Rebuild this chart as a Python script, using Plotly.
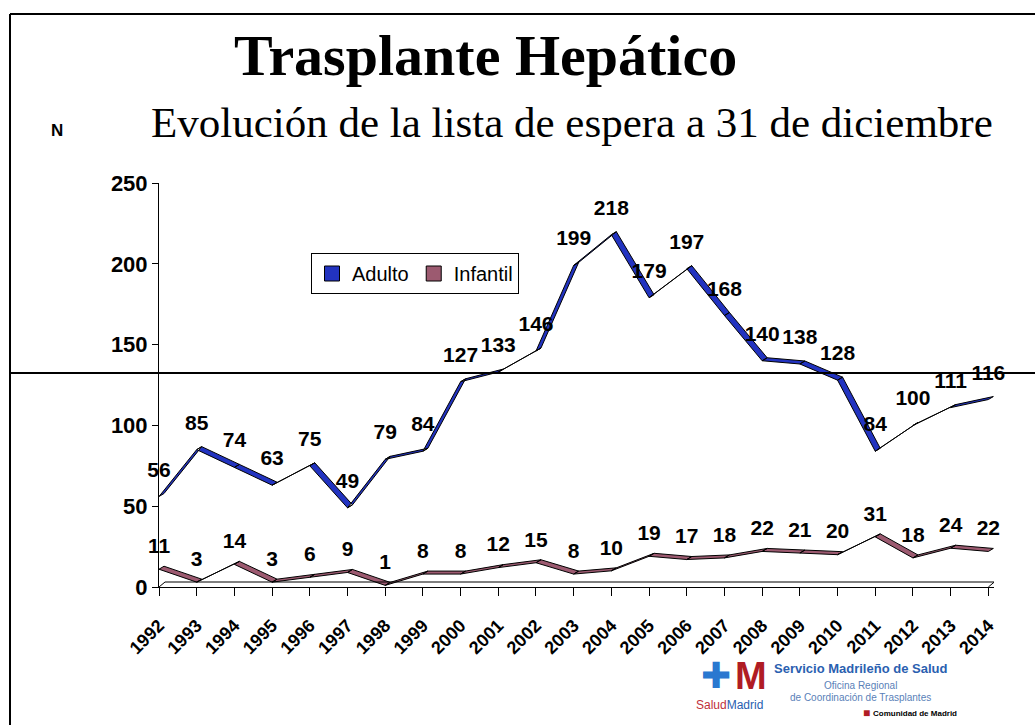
import plotly.graph_objects as go

# ---------------------------------------------------------------------------
# Data
# ---------------------------------------------------------------------------
years = [str(y) for y in range(1992, 2015)]
adulto = [56, 85, 74, 63, 75, 49, 79, 84, 127, 133, 146, 199, 218,
          179, 197, 168, 140, 138, 128, 84, 100, 111, 116]
infantil = [11, 3, 14, 3, 6, 9, 1, 8, 8, 12, 15, 8, 10,
            19, 17, 18, 22, 21, 20, 31, 18, 24, 22]

BLUE = "#2233c0"
MAUVE = "#9c5a70"

# ---------------------------------------------------------------------------
# Layout geometry (pixels)
# ---------------------------------------------------------------------------
W, H = 1035, 725
L, R, T, B = 159, 41, 183, 138
X_MAX = 22.15
PX_PER_X = (W - L - R) / X_MAX
PX_PER_Y = (H - T - B) / 250

# 3D ribbon depth, in pixels (right, up)
DEPTH = (5, 3)
FLOOR = (6, 5)


def paper(px, py):
    return (px - L) / (W - L - R), (H - B - py) / (H - T - B)


def ribbon(values):
    dx = DEPTH[0] / PX_PER_X
    dy = DEPTH[1] / PX_PER_Y
    xs, ys = [], []
    for i in range(len(values) - 1):
        x0, x1 = i, i + 1
        y0, y1 = values[i], values[i + 1]
        xs += [x0, x1, x1 + dx, x0 + dx, x0, None]
        ys += [y0, y1, y1 + dy, y0 + dy, y0, None]
    return xs, ys


fig = go.Figure()

for name, vals, color in [("Adulto", adulto, BLUE), ("Infantil", infantil, MAUVE)]:
    rx, ry = ribbon(vals)
    fig.add_trace(go.Scatter(
        x=rx, y=ry, mode="lines", fill="toself", fillcolor=color,
        line=dict(color="black", width=1), showlegend=False, hoverinfo="skip",
    ))

# data labels; an invisible marker pushes the text up off the ribbon
for vals, pad in [(adulto, 22), (infantil, 16)]:
    fig.add_trace(go.Scatter(
        x=list(range(len(vals))), y=vals, mode="markers+text", text=[str(v) for v in vals],
        textposition="top center", cliponaxis=False, showlegend=False, hoverinfo="skip",
        marker=dict(size=pad, color="rgba(0,0,0,0)"),
        textfont=dict(family="Arial, Liberation Sans", size=21, color="black", weight="bold"),
    ))

# legend entries
for name, color in [("Adulto", BLUE), ("Infantil", MAUVE)]:
    fig.add_trace(go.Scatter(
        x=[None], y=[None], mode="markers", name=name,
        marker=dict(symbol="square", size=15, color=color, line=dict(color="black", width=1)),
    ))

# 3D floor
fdx = FLOOR[0] / PX_PER_X
fdy = FLOOR[1] / PX_PER_Y
n = len(years) - 1
shapes = [
    dict(type="line", xref="x", yref="y", x0=0, y0=0, x1=fdx, y1=fdy, line=dict(color="black", width=1)),
    dict(type="line", xref="x", yref="y", x0=fdx, y0=fdy, x1=n + fdx, y1=fdy, line=dict(color="black", width=1)),
    dict(type="line", xref="x", yref="y", x0=n, y0=0, x1=n + fdx, y1=fdy, line=dict(color="black", width=1)),
]

# slide frame and stray horizontal rule
fx0, fy0 = paper(10, 14)
fx1, fy1 = paper(W, H)
hx0, hy = paper(10, 373)
shapes += [
    dict(type="line", xref="paper", yref="paper", x0=fx0, y0=fy0, x1=fx1, y1=fy0, line=dict(color="black", width=2)),
    dict(type="line", xref="paper", yref="paper", x0=fx0, y0=fy0, x1=fx0, y1=fy1, line=dict(color="black", width=2)),
    dict(type="line", xref="paper", yref="paper", x0=hx0, y0=hy, x1=fx1, y1=hy, line=dict(color="black", width=2)),
]


def note(text, px, py, size, family="Arial, Liberation Sans", color="black", bold=False, xanchor="center"):
    ax, ay = paper(px, py)
    return dict(
        text=text, x=ax, y=ay, xref="paper", yref="paper", showarrow=False,
        xanchor=xanchor, yanchor="middle",
        font=dict(family=family, size=size, color=color, weight="bold" if bold else "normal"),
    )


SERIF = "Liberation Serif, Times New Roman, serif"
annotations = [
    note("Trasplante Hepático", 485, 56, 58, family=SERIF, bold=True),
    note("Evolución de la lista de espera a 31 de diciembre", 572, 122, 43, family=SERIF),
    note("N", 57, 130, 17, bold=True),
    # logo
    note("✚", 716, 675, 36, color="#2a78d0"),
    note("M", 751, 676, 38, color="#b01c24", bold=True),
    note("<span style='color:#c0303a'>Salud</span><span style='color:#2a60b0'>Madrid</span>",
         729, 705, 12),
    note("Servicio Madrileño de Salud", 860, 668, 13, color="#2a60b0", bold=True),
    note("Oficina Regional", 860, 685, 10, color="#5a7fb8"),
    note("de Coordinación de Trasplantes", 860, 697, 10, color="#5a7fb8"),
    note("■", 866, 713, 12, color="#b01c24"),
    note("Comunidad de Madrid", 915, 713, 8, bold=True),
]

fig.update_layout(
    width=W, height=H,
    margin=dict(l=L, r=R, t=T, b=B),
    paper_bgcolor="white", plot_bgcolor="white",
    shapes=shapes, annotations=annotations,
    legend=dict(
        orientation="h", x=paper(311, 0)[0], y=paper(0, 253)[1],
        xanchor="left", yanchor="top",
        bordercolor="black", borderwidth=1, bgcolor="white",
        font=dict(family="Arial, Liberation Sans", size=20, color="black"),
    ),
    xaxis=dict(
        range=[0, X_MAX], tickmode="array", tickvals=list(range(len(years))), ticktext=years,
        tickangle=-45, ticks="outside", ticklen=8, tickcolor="black", ticklabelstandoff=12,
        showline=True, linecolor="black", linewidth=1, showgrid=False, zeroline=False,
        tickfont=dict(family="Arial, Liberation Sans", size=18, color="black", weight="bold"),
    ),
    yaxis=dict(
        range=[0, 250], tickvals=[0, 50, 100, 150, 200, 250],
        ticks="outside", ticklen=6, tickcolor="black",
        showline=True, linecolor="black", linewidth=1, showgrid=False, zeroline=False,
        tickfont=dict(family="Arial, Liberation Sans", size=22, color="black", weight="bold"),
    ),
)

fig.write_html("out.html", config={"displayModeBar": False},
               post_script="document.body.style.margin='0';")
